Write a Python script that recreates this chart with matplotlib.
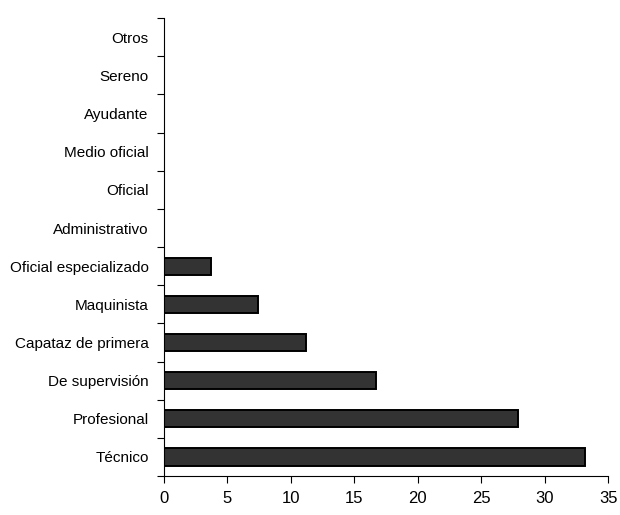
import matplotlib.pyplot as plt
import numpy as np

plt.rcParams['font.family'] = 'Liberation Sans'

categories = ['Técnico', 'Profesional', 'De supervisión', 'Capataz de primera',
              'Maquinista', 'Oficial especializado', 'Administrativo', 'Oficial',
              'Medio oficial', 'Ayudante', 'Sereno', 'Otros']
values = [33.2, 27.9, 16.7, 11.2, 7.4, 3.7, 0, 0, 0, 0, 0, 0]

fig = plt.figure(figsize=(6.2, 5.15), dpi=100)
ax = fig.add_axes([0.2645, 0.0757, 0.7165, 0.889])

y = np.arange(len(categories))
ax.barh(y, values, height=0.45, color='#333333', edgecolor='black', linewidth=1.4)

ax.set_xlim(0, 35)
ax.set_ylim(-0.5, len(categories) - 0.5)
ax.set_xticks(np.arange(0, 36, 5))

# category labels centred, ticks at the boundaries
ax.set_yticks(y)
ax.set_yticklabels(categories, fontsize=11)
ax.tick_params(axis='y', which='major', length=0, pad=11)
ax.set_yticks(np.arange(-0.5, len(categories), 1), minor=True)
ax.tick_params(axis='y', which='minor', length=5, width=0.8, direction='out')
ax.tick_params(axis='x', length=5, width=0.8, direction='out', pad=6, labelsize=12)

for s in ['top', 'right']:
    ax.spines[s].set_visible(False)
for s in ['left', 'bottom']:
    ax.spines[s].set_linewidth(0.8)

plt.savefig('out.png', dpi=100, facecolor='white')
